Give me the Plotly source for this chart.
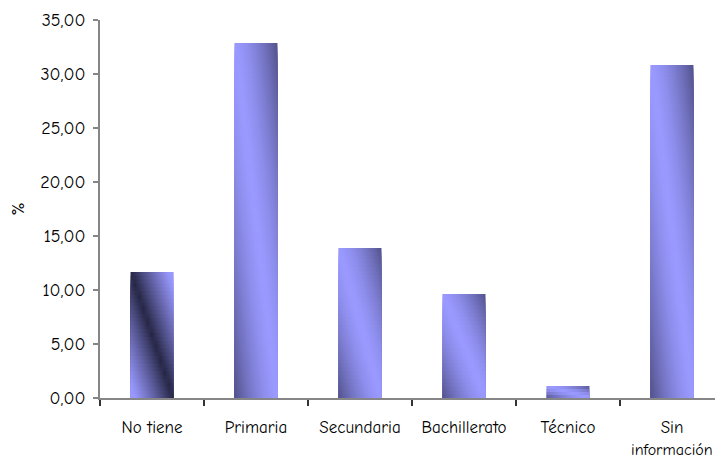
import numpy as np
import plotly.graph_objects as go

# ---- data -------------------------------------------------------------
categories = ["No tiene", "Primaria", "Secundaria", "Bachillerato", "Técnico", "Sin información"]
tick_labels = ["No tiene", "Primaria", "Secundaria", "Bachillerato", "Técnico", "Sin\ninformación"]
percent = [11.67, 32.87, 13.89, 9.63, 1.11, 30.83]
y_ticks = [0, 5, 10, 15, 20, 25, 30, 35]

# ---- style ------------------------------------------------------------
BAR_W = 0.41
FONT = "Comic Sans MS, Comic Neue, DejaVu Sans, sans-serif"
AXIS_GREY = "#868686"
LIGHT = (153, 153, 255)
DARK = (82, 82, 140)
BAND = (36, 36, 66)
# per-bar gradient style: "sheen" = light diagonal streak, "band" = dark diagonal streak
gradient_kind = ["band", "sheen", "sheen", "sheen", "sheen", "sheen"]


def mix(c1, c2, t):
    t = min(max(t, 0.0), 1.0)
    return "rgb(%d,%d,%d)" % tuple(round(a + (b - a) * t) for a, b in zip(c1, c2))


def shade(kind, s):
    # s = u + v, diagonal coordinate inside the bar (0..2)
    d = abs(s - 1.0)
    if kind == "band":
        return mix(BAND, LIGHT, min(1.0, d / 0.9) ** 0.9)
    return mix(LIGHT, DARK, d ** 1.5)


x_pos = list(range(len(categories)))
x_range = [-0.5, -0.5 + 615 / 104]

fig = go.Figure()

# plain bars underneath
fig.add_trace(go.Bar(
    x=x_pos, y=percent, width=BAR_W, marker_color="rgb(120,120,200)",
    marker_line_width=0, hoverinfo="x+y", showlegend=False, xaxis="x", yaxis="y",
))

# diagonal gradient shading, built from stacked horizontal-gradient fills
for xc, val, kind in zip(x_pos, percent, gradient_kind):
    n = max(4, int(round(val * 2.8)))
    xl, xr = xc - BAR_W / 2, xc + BAR_W / 2
    for k in range(n, 0, -1):
        top = val * k / n
        v = (k - 0.5) / n
        scale = [[float(u), shade(kind, u + v)] for u in np.linspace(0, 1, 11)]
        fig.add_trace(go.Scatter(
            x=[xl, xl, xr, xr, xl], y=[0, top, top, 0, 0],
            mode="lines", line=dict(width=0), fill="toself",
            fillgradient=dict(type="horizontal", colorscale=scale),
            hoverinfo="skip", showlegend=False, xaxis="x2", yaxis="y",
        ))

first_lines = [t.split("\n")[0] for t in tick_labels]

fig.update_layout(
    width=715, height=462,
    margin=dict(l=100, r=0, t=20, b=64),
    paper_bgcolor="white", plot_bgcolor="white",
    separators=",.",
    font=dict(family=FONT, color="black"),
    xaxis=dict(
        range=x_range, tickvals=[i - 0.5 for i in range(len(categories) + 1)],
        showticklabels=False, ticks="outside", ticklen=6, tickwidth=2, tickcolor="#333333",
        showline=True, linecolor=AXIS_GREY, linewidth=2,
        showgrid=False, zeroline=False, fixedrange=True,
    ),
    xaxis2=dict(
        overlaying="x", anchor="y", side="bottom", range=x_range,
        tickvals=x_pos, ticktext=first_lines,
        ticks="outside", ticklen=14, tickcolor="rgba(0,0,0,0)",
        tickfont=dict(family=FONT, size=17, color="black"),
        showline=False, showgrid=False, zeroline=False,
    ),
    yaxis=dict(
        range=[0, 35], tickvals=y_ticks, tickformat=".2f",
        ticks="outside", ticklen=5, tickwidth=2, tickcolor=AXIS_GREY,
        ticklabelstandoff=4,
        tickfont=dict(family=FONT, size=18, color="black"),
        showline=True, linecolor=AXIS_GREY, linewidth=2,
        showgrid=False, zeroline=False,
        title=dict(text="%", font=dict(family=FONT, size=19), standoff=10),
    ),
)

# second line of wrapped category labels
for xc, label in zip(x_pos, tick_labels):
    parts = label.split("\n")
    if len(parts) > 1:
        fig.add_annotation(
            x=xc, xref="x", y=-(450 - 398) / 378, yref="paper",
            text="<br>".join(parts[1:]), showarrow=False, borderpad=0,
            font=dict(family=FONT, size=16, color="black"), yanchor="middle",
        )

fig.write_html("out.html")
